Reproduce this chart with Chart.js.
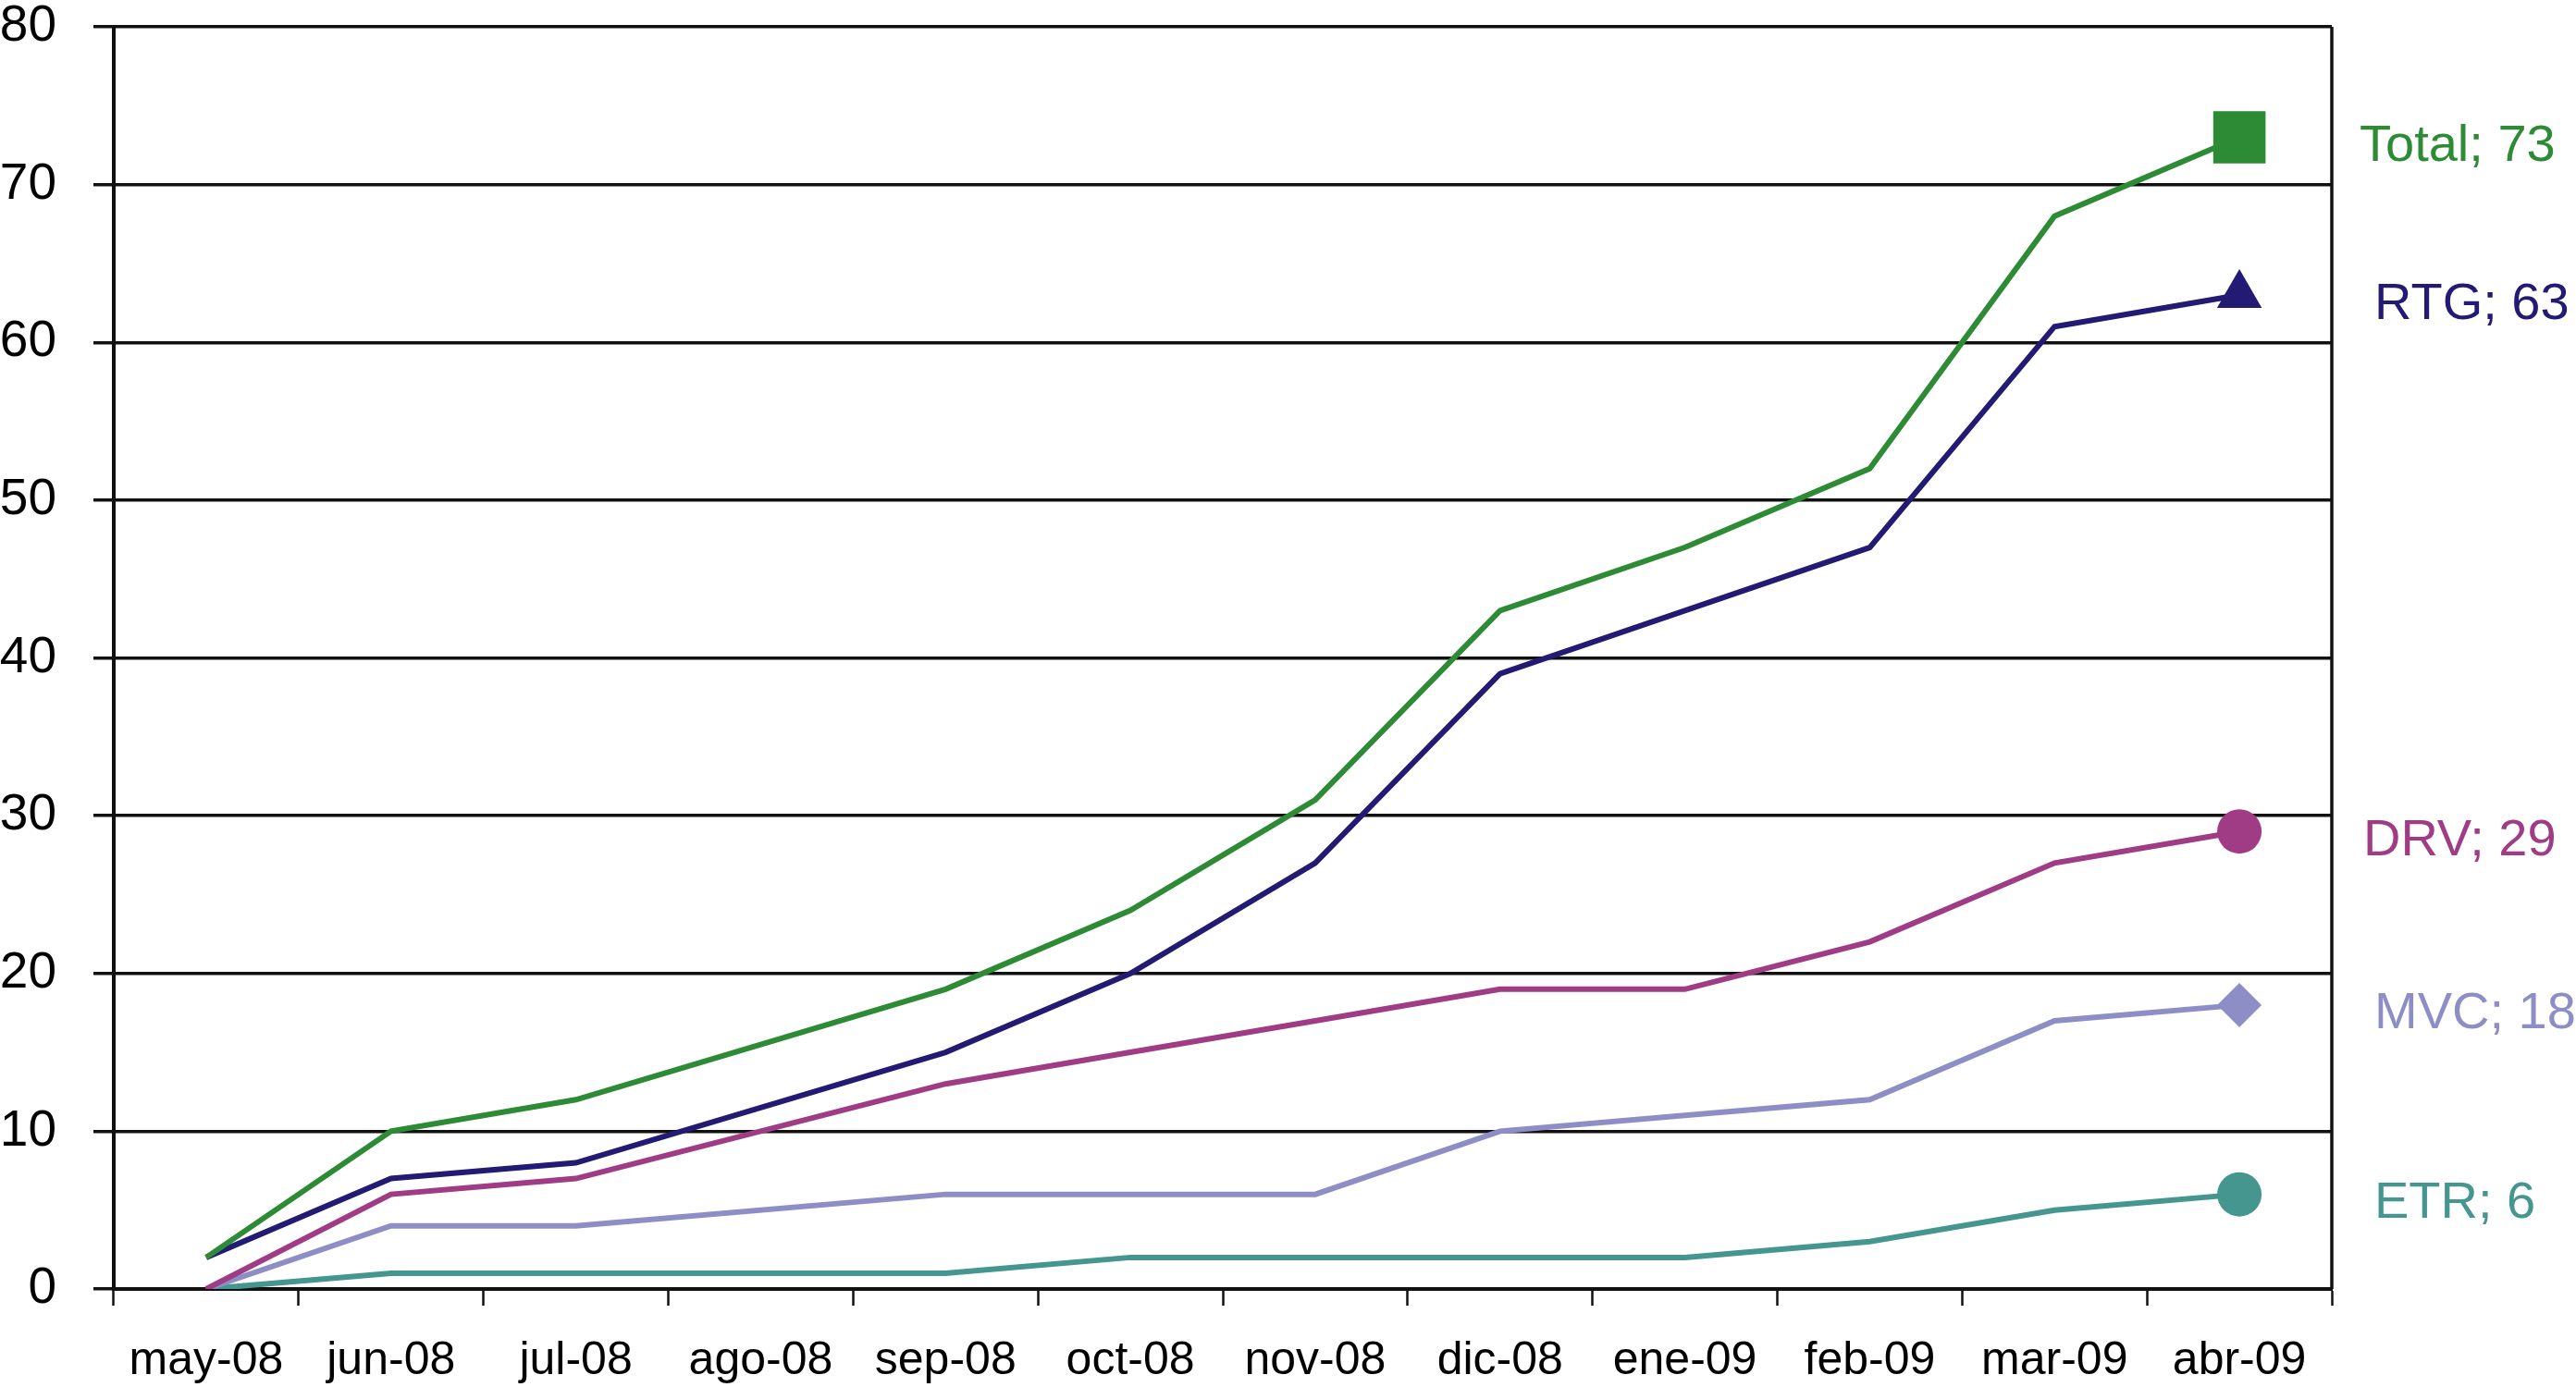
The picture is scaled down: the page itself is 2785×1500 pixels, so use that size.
<!DOCTYPE html>
<html>
<head>
<meta charset="utf-8">
<script src="https://cdn.jsdelivr.net/npm/chart.js@4.4.0/dist/chart.umd.min.js"></script>
<style>
    html, body { margin: 0; padding: 0; background: #fff; }
    #wrap { width: 2785px; height: 1500px; }
</style>
</head>
<body>
<div id="wrap"><canvas id="chart" width="2785" height="1500"></canvas></div>
<script>
// Data (ago-08 has no value in the source, line just joins jul and sep)
const months = ['may-08', 'jun-08', 'jul-08', 'ago-08', 'sep-08', 'oct-08', 'nov-08', 'dic-08', 'ene-09', 'feb-09', 'mar-09', 'abr-09'];
const totalData = [2, 10, 12, null, 19, 24, 31, 43, 47, 52, 68, 73];
const rtgData   = [2, 7, 8, null, 15, 20, 27, 39, 43, 47, 61, 63];
const drvData   = [0, 6, 7, null, 13, 15, 17, 19, 19, 22, 27, 29];
const mvcData   = [0, 4, 4, null, 6, 6, 6, 10, 11, 12, 17, 18];
const etrData   = [0, 1, 1, null, 1, 2, 2, 2, 2, 3, 5, 6];
const yTicks = [0, 10, 20, 30, 40, 50, 60, 70, 80];

const FONT = "'Liberation Sans', Arial, sans-serif";
const lastIdx = months.length - 1;

function series(label, data, color, style, radius, labelDx) {
    return {
        label: label,
        data: data,
        borderColor: color,
        backgroundColor: color,
        borderWidth: 6,
        tension: 0,
        spanGaps: true,
        pointStyle: style,
        pointRadius: ctx => ctx.dataIndex === lastIdx ? radius : 0,
        pointHoverRadius: 0,
        pointBackgroundColor: color,
        pointBorderColor: color,
        pointBorderWidth: 0,
        labelDx: labelDx
    };
}

// right-hand "name; value" labels next to the end markers
const endLabels = {
    id: 'endLabels',
    afterDatasetsDraw(chart) {
        const ctx = chart.ctx;
        const area = chart.chartArea;
        ctx.save();
        ctx.font = '56px ' + FONT;
        ctx.textAlign = 'left';
        ctx.textBaseline = 'middle';
        chart.data.datasets.forEach((ds, i) => {
            const pt = chart.getDatasetMeta(i).data[lastIdx];
            ctx.fillStyle = ds.borderColor;
            ctx.fillText(ds.label + '; ' + ds.data[lastIdx], area.right + ds.labelDx, pt.y + 10);
        });
        ctx.restore();
    }
};

// right border of the plot box
const frame = {
    id: 'frame',
    afterDraw(chart) {
        const ctx = chart.ctx;
        const a = chart.chartArea;
        ctx.save();
        ctx.strokeStyle = '#111';
        ctx.lineWidth = 3.5;
        ctx.beginPath();
        ctx.moveTo(a.right, a.top);
        ctx.lineTo(a.right, a.bottom);
        ctx.stroke();
        ctx.restore();
    }
};

new Chart(document.getElementById('chart'), {
    type: 'line',
    data: {
        labels: months,
        datasets: [
            series('Total', totalData, '#2d8a35', 'rect', 40, 30),
            series('RTG', rtgData, '#221a73', 'triangle', 28, 46),
            series('DRV', drvData, '#a03c85', 'circle', 24, 34),
            series('MVC', mvcData, '#8e8ec6', 'rectRot', 24, 46),
            series('ETR', etrData, '#44968f', 'circle', 24, 46)
        ]
    },
    options: {
        responsive: false,
        animation: false,
        devicePixelRatio: 1,
        layout: { autoPadding: false, padding: { left: 0, right: 264, top: 0, bottom: 0 } },
        plugins: {
            legend: { display: false },
            tooltip: { enabled: false }
        },
        scales: {
            x: {
                offset: true,
                grid: {
                    offset: true,
                    drawOnChartArea: false,
                    drawTicks: true,
                    tickLength: 18,
                    tickColor: '#111',
                    tickWidth: 2.5
                },
                border: { display: true, color: '#111', width: 4 },
                ticks: {
                    color: '#000',
                    font: { family: FONT, size: 50 },
                    padding: 30,
                    autoSkip: false,
                    maxRotation: 0
                },
                afterFit: axis => { axis.height = 106; }
            },
            y: {
                min: 0,
                max: 80,
                afterBuildTicks: axis => { axis.ticks = yTicks.map(v => ({ value: v })); },
                grid: {
                    color: '#111',
                    lineWidth: 3.5,
                    drawTicks: true,
                    tickLength: 22
                },
                border: { display: true, color: '#111', width: 4 },
                ticks: {
                    color: '#000',
                    font: { family: FONT, size: 55, lineHeight: 1.0 },
                    padding: 40
                },
                afterFit: axis => {
                    axis.width = 123;
                    axis.paddingTop = 29;
                    axis.paddingBottom = 0;
                }
            }
        }
    },
    plugins: [endLabels, frame]
});
</script>
</body>
</html>
